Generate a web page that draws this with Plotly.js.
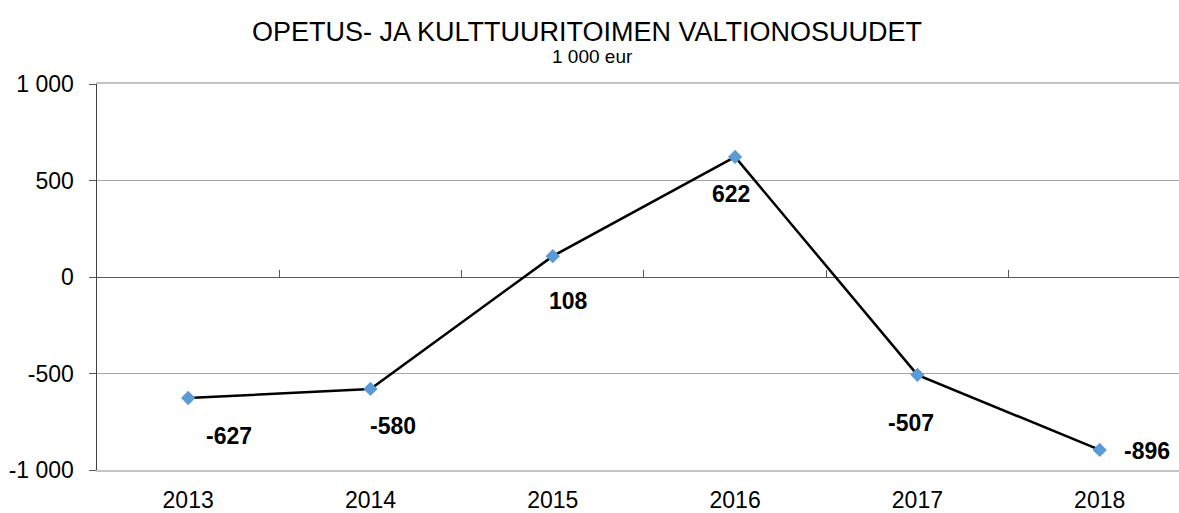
<!DOCTYPE html>
<html>
<head>
<meta charset="utf-8">
<script src="https://cdn.plot.ly/plotly-3.0.1.min.js"></script>
<style>html,body{margin:0;padding:0;background:#fff;}#chart{width:1179px;height:513px;}</style>
</head>
<body>
<div id="chart"></div>
<script>
// Data
const years = ['2013', '2014', '2015', '2016', '2017', '2018'];
const values = [-627, -580, 108, 622, -507, -896];
const yTickVals = [-1000, -500, 0, 500, 1000];
const yTickText = ['-1 000', '-500', '0', '500', '1 000'];
const titleText = 'OPETUS- JA KULTTUURITOIMEN VALTIONOSUUDET';
const subtitleText = '1 000 eur';

// Label offsets in pixels (style only)
const labelShift = [[41, 38], [23, 37], [16, 45], [-4, 37], [-6, 48], [47, 1]];

const FONT = '"Liberation Sans", Arial, sans-serif';
const xRange = [-0.5, 5.435];
const W = 1179, H = 513, ML = 97, MR = 0, MT = 84, MB = 43;

const traces = [
  {
    type: 'scatter', mode: 'lines+markers',
    x: years, y: values,
    line: {color: '#000000', width: 2.5},
    marker: {symbol: 'diamond', size: 11, color: '#5b9bd5'},
    hoverinfo: 'x+y', showlegend: false
  },
  {
    type: 'scatter', mode: 'lines', xaxis: 'x2',
    x: years, y: years.map(() => null),
    hoverinfo: 'skip', showlegend: false
  }
];

// category axis: annotation x given as category index
const annotations = values.map((v, i) => ({
  x: years.indexOf(years[i]), y: v, xref: 'x', yref: 'y',
  text: '<b>' + String(v) + '</b>', showarrow: false,
  xanchor: 'center', yanchor: 'middle',
  xshift: labelShift[i][0], yshift: -labelShift[i][1],
  font: {family: FONT, size: 23, color: '#000'}
}));

const plotH = H - MT - MB, plotW = W - ML - MR;
annotations.push({
  text: subtitleText, xref: 'paper', yref: 'paper',
  x: (592 - ML) / plotW, y: (H - MB - 57) / plotH, showarrow: false,
  xanchor: 'center', yanchor: 'middle',
  font: {family: FONT, size: 19, color: '#000'}
});

const layout = {
  width: W, height: H,
  margin: {l: ML, r: MR, t: MT, b: MB, pad: 0},
  paper_bgcolor: '#fff', plot_bgcolor: '#fff',
  font: {family: FONT, color: '#000'},
  title: {
    text: titleText,
    font: {family: FONT, size: 27, color: '#000'},
    x: 587 / W, xanchor: 'center', xref: 'container',
    y: 1 - 32 / H, yanchor: 'middle', yref: 'container'
  },
  xaxis: {
    type: 'category', range: xRange,
    showgrid: false, zeroline: false,
    showline: true, linecolor: '#c4c4c4', linewidth: 2, mirror: true,
    ticks: '', tickfont: {family: FONT, size: 23, color: '#000'},
    ticklabelstandoff: 8
  },
  xaxis2: {
    type: 'category', overlaying: 'x', anchor: 'free', position: 0.5,
    side: 'bottom', range: xRange,
    tickson: 'boundaries', ticks: 'inside', ticklen: 7, tickwidth: 1, tickcolor: '#595959',
    showticklabels: false, showgrid: false, zeroline: false, showline: false
  },
  yaxis: {
    range: [-1000, 1000],
    tickvals: yTickVals, ticktext: yTickText,
    showgrid: true, gridcolor: '#a6a6a6', gridwidth: 1,
    zeroline: true, zerolinecolor: '#595959', zerolinewidth: 1,
    showline: true, linecolor: '#404040', linewidth: 1.5,
    ticks: 'outside', ticklen: 7, tickcolor: '#595959', tickwidth: 1,
    tickfont: {family: FONT, size: 23, color: '#000'},
    ticklabelstandoff: 10
  },
  annotations: annotations,
  showlegend: false
};

Plotly.newPlot('chart', traces, layout, {displayModeBar: false, staticPlot: true});
</script>
</body>
</html>
